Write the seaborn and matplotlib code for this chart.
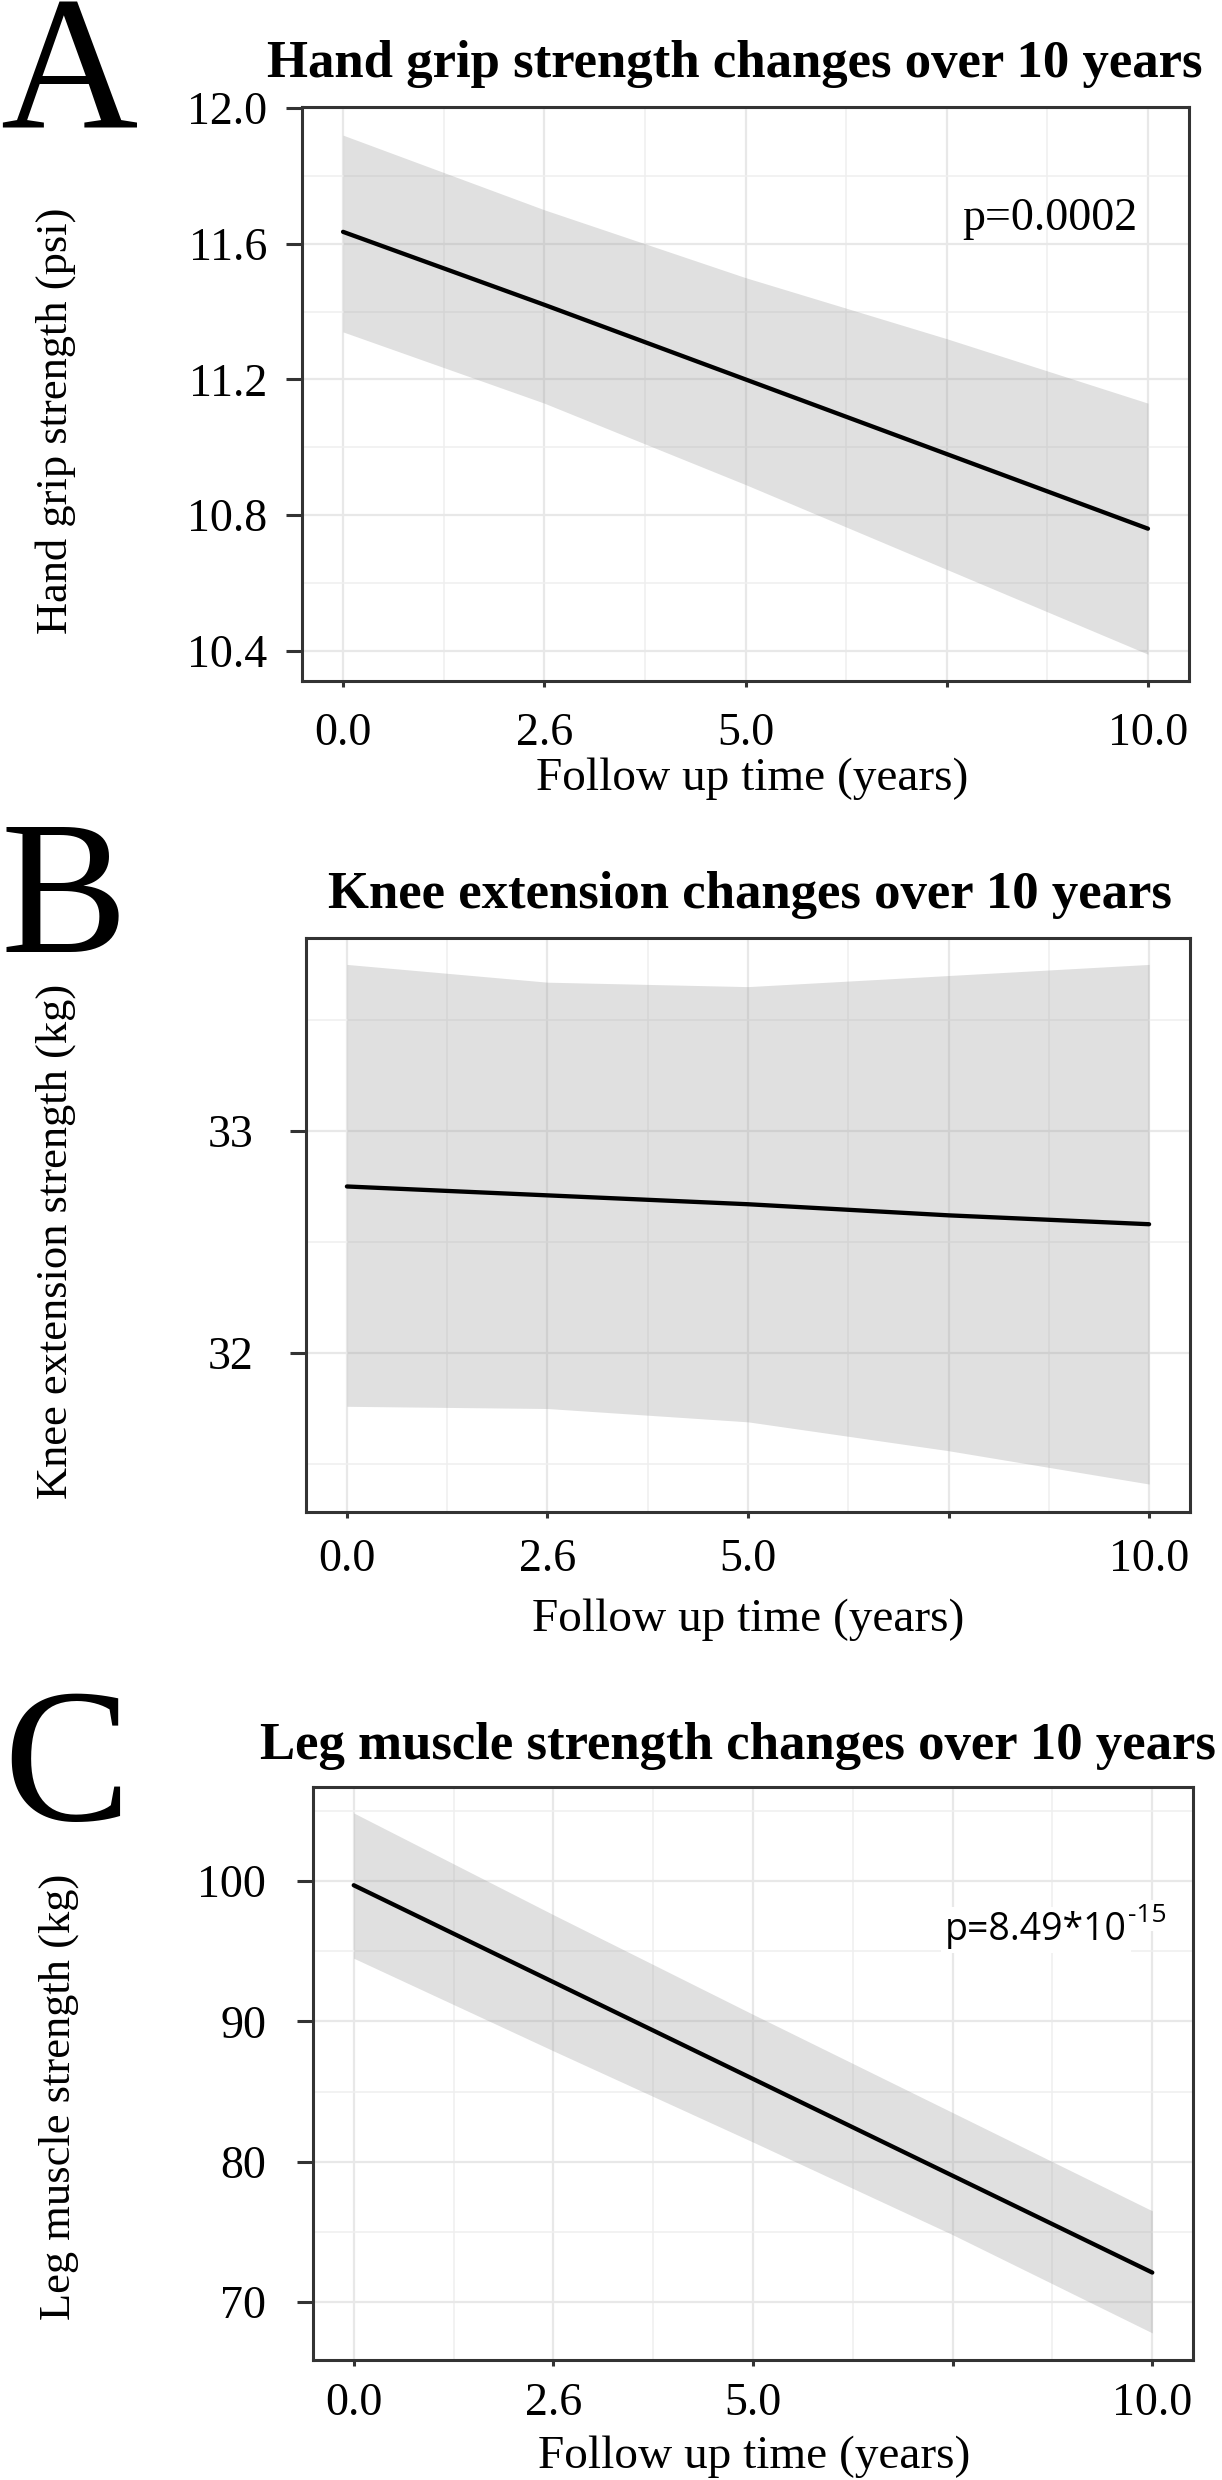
import matplotlib
matplotlib.use("Agg")
import matplotlib.pyplot as plt
import seaborn as sns

# -----------------------------
# Data
# -----------------------------
years = [0, 2.5, 5, 7.5, 10]
xtick_pos = [0, 2.5, 5, 7.5, 10]
xtick_labels = ["0.0", "2.6", "5.0", "", "10.0"]
xtick_minor = [1.25, 3.75, 6.25, 8.75]

grip_fit = [11.635, 11.42, 11.20, 10.98, 10.76]
grip_upper = [11.92, 11.70, 11.50, 11.32, 11.13]
grip_lower = [11.34, 11.13, 10.89, 10.64, 10.39]
grip_ticks = [10.4, 10.8, 11.2, 11.6, 12.0]
grip_minor = [10.6, 11.0, 11.4, 11.8]

knee_fit = [32.75, 32.71, 32.67, 32.62, 32.58]
knee_upper = [33.75, 33.67, 33.65, 33.70, 33.75]
knee_lower = [31.76, 31.75, 31.69, 31.56, 31.41]
knee_ticks = [32, 33]
knee_minor = [31.5, 32.5, 33.5]

leg_fit = [99.7, 92.8, 85.9, 79.0, 72.1]
leg_upper = [104.85, 97.6, 90.5, 83.5, 76.5]
leg_lower = [94.5, 87.9, 81.4, 74.8, 67.8]
leg_ticks = [70, 80, 90, 100]
leg_minor = [75, 85, 95, 105]

# -----------------------------
# Plot Settings
# -----------------------------
sns.set_style("white")
plt.rcParams["font.family"] = ["Liberation Serif", "DejaVu Serif"]
plt.rcParams["text.color"] = "black"
plt.rcParams["axes.labelcolor"] = "black"

W, H = 1222, 2480
fig = plt.figure(figsize=(W / 100, H / 100), dpi=100)


def fx(p):
    return p / W


def fy(p):
    return 1 - p / H


def panel(box, fit, lower, upper, ylim, yticks, yminor, yfmt, ypad, xpad):
    left, right, top, bottom = box
    ax = fig.add_axes([fx(left), fy(bottom), (right - left) / W, (bottom - top) / H])

    ax.fill_between(years, lower, upper, color="#999999", alpha=0.3, lw=0, zorder=2)
    sns.lineplot(x=years, y=fit, ax=ax, color="black", linewidth=3.1, zorder=3)

    ax.set_xlim(-0.51, 10.51)
    ax.set_ylim(*ylim)
    ax.set_xticks(xtick_pos)
    ax.set_xticklabels(xtick_labels)
    ax.set_xticks(xtick_minor, minor=True)
    ax.set_yticks(yticks)
    ax.set_yticklabels([yfmt.format(v) for v in yticks])
    ax.set_yticks(yminor, minor=True)

    ax.set_axisbelow(True)
    ax.grid(which="major", color="#E8E8E8", lw=1.6)
    ax.grid(which="minor", color="#EFEFEF", lw=1.1)
    for s in ax.spines.values():
        s.set_visible(True)
        s.set_color("#333333")
        s.set_linewidth(2.2)

    ax.tick_params(axis="y", which="major", left=True, length=11.5, width=2.2,
                   color="#333333", labelsize=33, labelcolor="black", pad=ypad)
    ax.tick_params(axis="x", which="major", bottom=True, length=4.3, width=2.2,
                   color="#333333", labelsize=33, labelcolor="black", pad=xpad)
    ax.tick_params(which="minor", length=0)
    return ax


def labels(ax, xlab, xlab_pos, ylab, ylab_pos):
    ax.set_xlabel(xlab, fontsize=34, va="baseline")
    ax.xaxis.set_label_coords(fx(xlab_pos[0]), fy(xlab_pos[1]), transform=fig.transFigure)
    ax.set_ylabel(ylab, fontsize=32, va="baseline")
    ax.yaxis.set_label_coords(fx(ylab_pos[0]), fy(ylab_pos[1]), transform=fig.transFigure)


# ==========================================================
# PANEL A : Hand grip strength
# ==========================================================
ax_a = panel((302, 1189, 107, 681), grip_fit, grip_lower, grip_upper,
             (10.311, 12.003), grip_ticks, grip_minor, "{:.1f}", 13.7, 18.7)
labels(ax_a, "Follow up time (years)", (752, 790), "Hand grip strength (psi)", (67, 421))
fig.text(fx(0), fy(128), "A", fontsize=137, ha="left", va="baseline")
fig.text(fx(267), fy(77), "Hand grip strength changes over 10 years",
         fontsize=38, fontweight="bold", ha="left", va="baseline")
fig.text(fx(1137), fy(230), "p=0.0002", fontsize=33, ha="right", va="baseline")

# ==========================================================
# PANEL B : Knee extension
# ==========================================================
ax_b = panel((306, 1190, 938, 1512), knee_fit, knee_lower, knee_upper,
             (31.284, 33.869), knee_ticks, knee_minor, "{:.0f}", 26.6, 15)
labels(ax_b, "Follow up time (years)", (748, 1631), "Knee extension strength (kg)", (67, 1241))
fig.text(fx(0), fy(952), "B", fontsize=137, ha="left", va="baseline")
fig.text(fx(328), fy(908), "Knee extension changes over 10 years",
         fontsize=38, fontweight="bold", ha="left", va="baseline")

# ==========================================================
# PANEL C : Leg muscle strength
# ==========================================================
ax_c = panel((313, 1193, 1787, 2360), leg_fit, leg_lower, leg_upper,
             (65.87, 106.7), leg_ticks, leg_minor, "{:.0f}", 22.3, 12.2)
labels(ax_c, "Follow up time (years)", (754, 2468), "Leg muscle strength (kg)", (70, 2097))
fig.text(fx(3), fy(1820), "C", fontsize=137, ha="left", va="baseline")
fig.text(fx(260), fy(1759), "Leg muscle strength changes over 10 years",
         fontsize=38, fontweight="bold", ha="left", va="baseline")

sans = ["Open Sans", "DejaVu Sans"]
fig.text(fx(1127), fy(1940), "p=8.49*10", fontsize=27, family=sans, ha="right", va="baseline",
         bbox=dict(facecolor="white", edgecolor="none", pad=3))
fig.text(fx(1128), fy(1922), "-15", fontsize=19, family=sans, ha="left", va="baseline",
         bbox=dict(facecolor="white", edgecolor="none", pad=2))

fig.savefig("out.png", dpi=100)
